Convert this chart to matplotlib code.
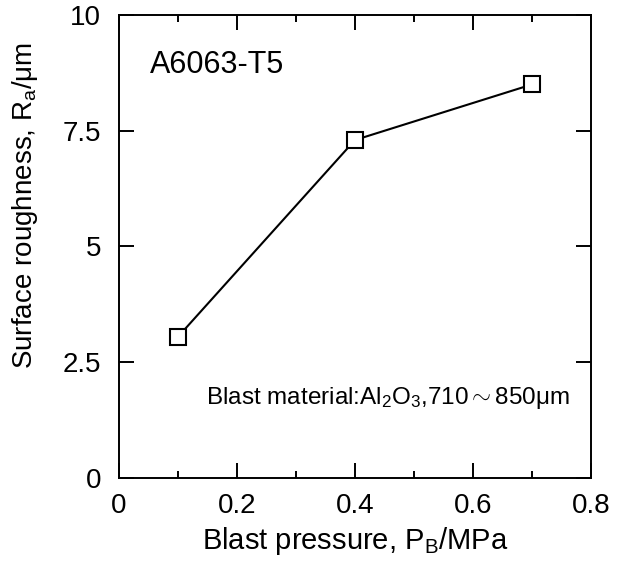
import matplotlib
matplotlib.use('Agg')
import matplotlib.pyplot as plt
from matplotlib.ticker import MultipleLocator

plt.rcParams.update({
    'font.family':       'Liberation Sans',
    'mathtext.fontset':  'custom',
    'mathtext.rm':       'Liberation Sans',
    'mathtext.it':       'Liberation Sans',
    'axes.linewidth':    1.4,
})

pressure  = [0.1, 0.4, 0.7]
roughness = [3.05, 7.3, 8.5]

x_ticks = [0, 0.2, 0.4, 0.6, 0.8]
x_labels = ['0', '0.2', '0.4', '0.6', '0.8']
y_ticks = [0, 2.5, 5, 7.5, 10]
y_labels = ['0', '2.5', '5', '7.5', '10']

fig = plt.figure(figsize=(6.25, 5.67), dpi=100, facecolor='white')
ax = fig.add_axes([119/625, 1 - 478/567, (591-119)/625, (478-15)/567])

ax.plot(pressure, roughness, color='black', linewidth=1.5, marker='s',
        markersize=12, markerfacecolor='white', markeredgecolor='black',
        markeredgewidth=1.5, zorder=3)

ax.set_xlim(0, 0.8)
ax.set_ylim(0, 10)
ax.set_xticks(x_ticks)
ax.set_xticklabels(x_labels)
ax.set_yticks(y_ticks)
ax.set_yticklabels(y_labels)
ax.xaxis.set_minor_locator(MultipleLocator(0.1))

ax.tick_params(which='major', direction='in', length=11, width=1.4,
               top=True, right=True, labelsize=20)
ax.tick_params(which='minor', direction='in', length=5, width=1.4,
               top=True, right=False, left=False)
ax.tick_params(axis='x', which='major', pad=11)
ax.tick_params(axis='y', which='major', pad=13)

ax.set_xlabel('Blast pressure, P$_\\mathrm{B}$/MPa', fontsize=21, labelpad=4)
ax.set_ylabel('Surface roughness, R$_\\mathrm{a}$/\u03bcm', fontsize=20)
ax.yaxis.set_label_coords(-0.168, 0.589)

ax.text(0.065, 0.892, 'A6063-T5', transform=ax.transAxes, fontsize=22,
        ha='left', va='center')
ax.text(0.955, 0.173,
        'Blast material:Al$_\\mathrm{2}$O$_\\mathrm{3}$,710${\\sim}$850\u03bcm',
        transform=ax.transAxes, fontsize=17.5, ha='right', va='center')

fig.savefig('out.png', dpi=100, facecolor='white')
